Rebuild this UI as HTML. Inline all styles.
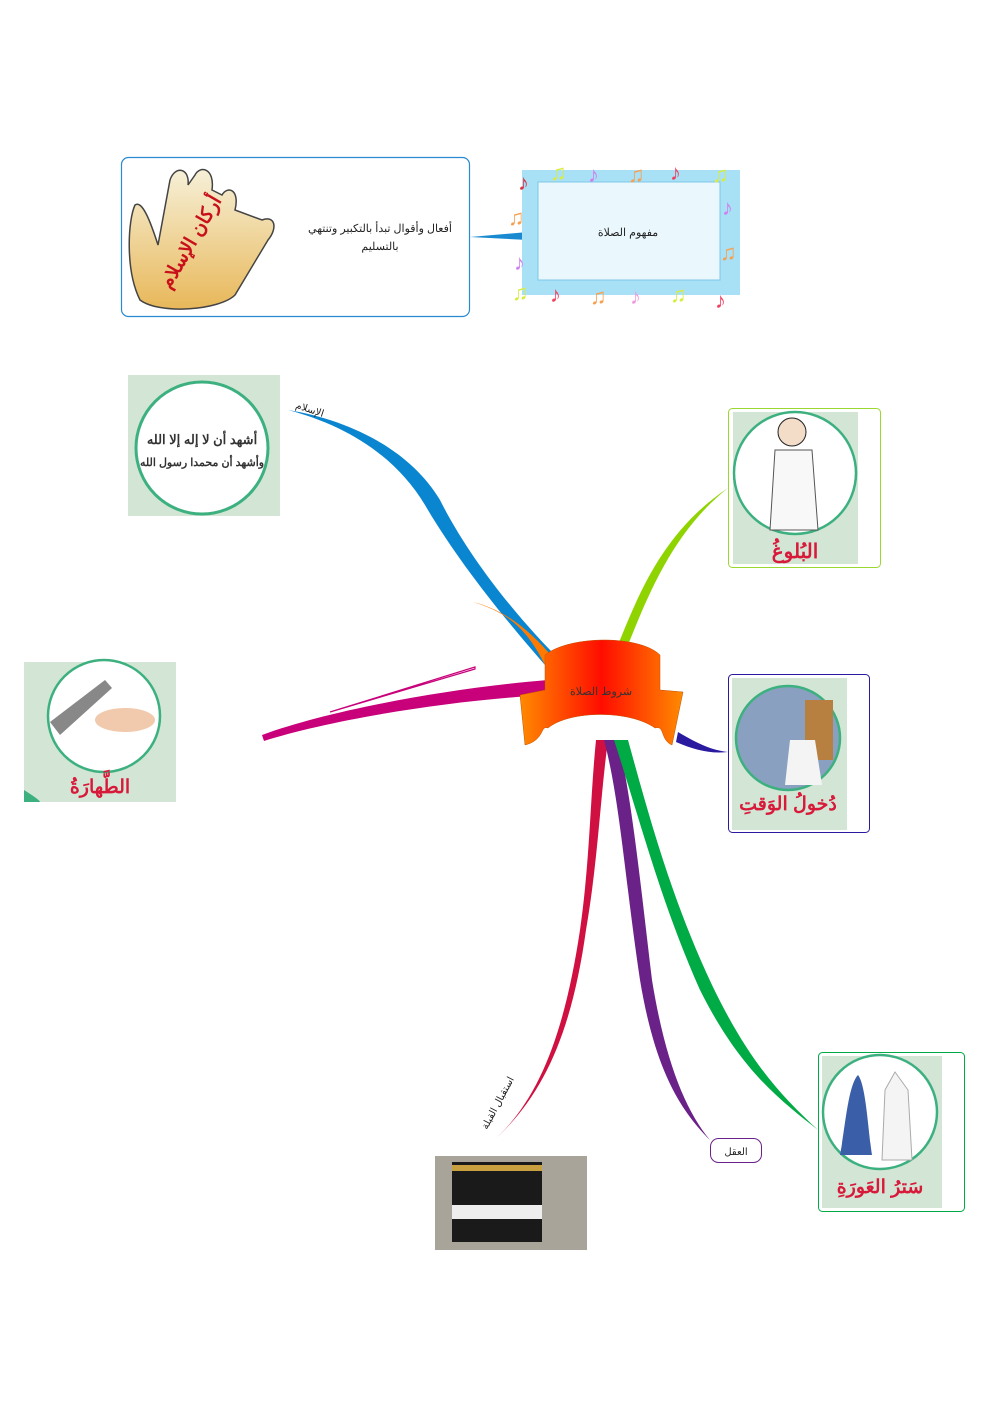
<!DOCTYPE html>
<html><head><meta charset="utf-8"><style>
body{margin:0;background:#fff;}
svg text{font-family:"Liberation Sans","Noto Sans CJK SC",sans-serif;}
</style></head><body>
<svg width="992" height="1403" viewBox="0 0 992 1403" xmlns="http://www.w3.org/2000/svg">
<defs>
<linearGradient id="ban" x1="0" x2="1"><stop offset="0" stop-color="#ff8a00"/><stop offset="0.5" stop-color="#ff0d00"/><stop offset="1" stop-color="#ff8a00"/></linearGradient>
<linearGradient id="hand" x1="0" y1="0" x2="0" y2="1"><stop offset="0" stop-color="#f6f0d8"/><stop offset="1" stop-color="#e8b85a"/></linearGradient>
</defs>
<rect x="121.5" y="157.5" width="348" height="159" rx="7" fill="#fff" stroke="#2a8ad0" stroke-width="1.2"/>
<path d="M140 300 C125 270 128 220 135 205 C142 200 150 220 158 245 L170 180 C175 165 190 168 188 185 L195 175 C200 165 215 168 212 190 L222 195 C228 185 240 190 235 210 L262 220 C275 215 278 228 268 240 L235 295 C220 310 160 315 140 300Z" fill="url(#hand)" stroke="#444" stroke-width="1.5"/>
<text x="170" y="290" font-size="19" fill="#c8101a" font-weight="bold" transform="rotate(-60 170 290)">أركان الإسلام</text>
<text x="380" y="232" font-size="11" fill="#222" text-anchor="middle">أفعال وأقوال تبدأ بالتكبير وتنتهي</text>
<text x="380" y="250" font-size="11" fill="#222" text-anchor="middle">بالتسليم</text>
<path d="M470 237 L528 232 L528 240 Z" fill="#1a8ad0"/>
<rect x="522" y="170" width="218" height="125" fill="#a8e0f6"/>
<rect x="538" y="182" width="182" height="98" fill="#eaf8fd" stroke="#7dc8e8"/>
<g font-size="22">
<text x="518" y="190" fill="#e23040">♪</text><text x="550" y="180" fill="#d8ec40">♫</text><text x="588" y="182" fill="#cf80ee">♪</text><text x="628" y="182" fill="#f6a050">♫</text><text x="670" y="180" fill="#f04060">♪</text><text x="712" y="182" fill="#d8ec40">♫</text>
<text x="508" y="225" fill="#f6a050">♫</text><text x="514" y="270" fill="#cf80ee">♪</text><text x="512" y="300" fill="#d8ec40">♫</text>
<text x="550" y="302" fill="#f04060">♪</text><text x="590" y="304" fill="#f6a050">♫</text><text x="630" y="304" fill="#f09ae0">♪</text><text x="670" y="302" fill="#d8ec40">♫</text><text x="715" y="308" fill="#f04060">♪</text>
<text x="722" y="215" fill="#cf80ee">♪</text><text x="720" y="260" fill="#f6a050">♫</text>
</g>
<text x="628" y="236" font-size="11" fill="#222" text-anchor="middle">مفهوم الصلاة</text>
<path d="M555 655 C520 620 470 560 440 500 C410 450 350 420 288 410 C345 425 395 455 425 505 C460 565 510 625 545 665Z" fill="#0a86d0"/>
<path d="M555 660 C530 630 505 610 473 602 C505 612 525 625 545 665Z" fill="#ff7a00"/>
<path d="M618 645 C640 590 665 530 728 488 C675 530 650 590 628 645Z" fill="#8fd400"/>
<path d="M548 680 C450 688 330 710 262 735 L264 741 C330 720 450 700 548 695Z" fill="#c8007a"/>
<path d="M475 667 L330 712 L475 669Z" stroke="#c8007a" stroke-width="1.2" fill="none"/>
<path d="M678 732 C700 745 712 750 728 752 C710 754 695 750 676 742Z" fill="#2a1aa0"/>
<path d="M596 740 C590 800 590 860 580 930 C565 1030 540 1100 492 1142 C545 1095 572 1030 586 930 C598 860 600 800 608 740Z" fill="#d01040"/>
<path d="M604 740 C620 800 625 880 640 980 C655 1070 680 1110 710 1140 C685 1110 665 1060 652 980 C640 880 632 800 618 740Z" fill="#6a2288"/>
<path d="M614 740 C640 820 660 900 700 990 C740 1070 780 1100 818 1130 C780 1095 748 1060 712 985 C672 900 650 820 628 740Z" fill="#00aa44"/>
<text x="295" y="408" font-size="10" fill="#222" transform="rotate(18 295 408)">الإسلام</text>
<text x="487" y="1130" font-size="10" fill="#222" transform="rotate(-62 487 1130)">استقبال القبلة</text>
<rect x="710.5" y="1138.5" width="51" height="24" rx="8" fill="#fff" stroke="#6a2288"/>
<text x="736" y="1155" font-size="10" fill="#222" text-anchor="middle">العقل</text>
<path d="M545 655 C570 635 640 635 660 655 L660 690 L683 692 L672 745 C660 740 665 725 655 728 C630 710 570 710 548 728 C540 725 545 740 525 745 L520 695 L545 690Z" fill="url(#ban)" stroke="#c05000" stroke-width="0.5"/>
<text x="601" y="695" font-size="11" fill="#333" text-anchor="middle">شروط الصلاة</text>
<rect x="128" y="375" width="152" height="141" fill="#d3e6d6"/>
<circle cx="202" cy="448" r="66" fill="#fff" stroke="#3db080" stroke-width="3"/>
<text x="202" y="444" font-size="13" fill="#333" text-anchor="middle" font-weight="bold">أشهد أن لا إله إلا الله</text>
<text x="202" y="466" font-size="11" fill="#333" text-anchor="middle" font-weight="bold">وأشهد أن محمدا رسول الله</text>
<rect x="728.5" y="408.5" width="152" height="159" rx="4" fill="#fff" stroke="#9ad830"/>
<rect x="733" y="412" width="125" height="152" fill="#d3e6d6"/>
<circle cx="795" cy="473" r="61" fill="#fff" stroke="#3db080" stroke-width="2.5"/>
<circle cx="792" cy="432" r="14" fill="#f3dcc8" stroke="#222"/>
<path d="M775 450 L812 450 L818 530 L770 530Z" fill="#f8f8f8" stroke="#555"/>
<text x="795" y="558" font-size="20" fill="#d81a3a" text-anchor="middle" font-weight="bold">البُلوغُ</text>
<rect x="24" y="662" width="152" height="140" fill="#d3e6d6"/>
<circle cx="104" cy="716" r="56" fill="#fff" stroke="#3db080" stroke-width="2.5"/>
<path d="M50 722 L105 680 L112 688 L60 735Z" fill="#888"/>
<ellipse cx="125" cy="720" rx="30" ry="12" fill="#f1c9ac"/>
<path d="M24 790 Q40 800 40 802 L24 802Z" fill="#3db080"/>
<text x="100" y="793" font-size="19" fill="#d81a3a" text-anchor="middle" font-weight="bold">الطَّهارَةُ</text>
<rect x="728.5" y="674.5" width="141" height="158" rx="4" fill="#fff" stroke="#2a1aa0"/>
<rect x="732" y="678" width="115" height="152" fill="#d3e6d6"/>
<circle cx="788" cy="738" r="52" fill="#8aa0c0" stroke="#3db080" stroke-width="2.5"/>
<rect x="805" y="700" width="28" height="60" fill="#b88040"/>
<path d="M790 740 L815 740 L822 785 L785 785Z" fill="#f4f4f4"/>
<text x="788" y="810" font-size="19" fill="#d81a3a" text-anchor="middle" font-weight="bold">دُخولُ الوَقتِ</text>
<rect x="818.5" y="1052.5" width="146" height="159" rx="4" fill="#fff" stroke="#00aa44"/>
<rect x="822" y="1056" width="120" height="152" fill="#d3e6d6"/>
<circle cx="880" cy="1112" r="57" fill="#fff" stroke="#3db080" stroke-width="2.5"/>
<path d="M858 1075 C848 1085 845 1130 840 1155 L872 1155 C868 1130 866 1085 858 1075Z" fill="#3a5ea8"/>
<path d="M895 1072 L885 1090 L882 1160 L912 1160 L908 1090Z" fill="#f4f4f4" stroke="#aaa"/>
<text x="880" y="1193" font-size="19" fill="#d81a3a" text-anchor="middle" font-weight="bold">سَترُ العَورَةِ</text>
<rect x="435" y="1156" width="152" height="94" fill="#a8a49a"/>
<rect x="452" y="1162" width="90" height="80" fill="#1a1a1a"/>
<rect x="452" y="1205" width="90" height="14" fill="#eee"/>
<rect x="452" y="1165" width="90" height="6" fill="#c8a040"/>
</svg>
</body></html>
